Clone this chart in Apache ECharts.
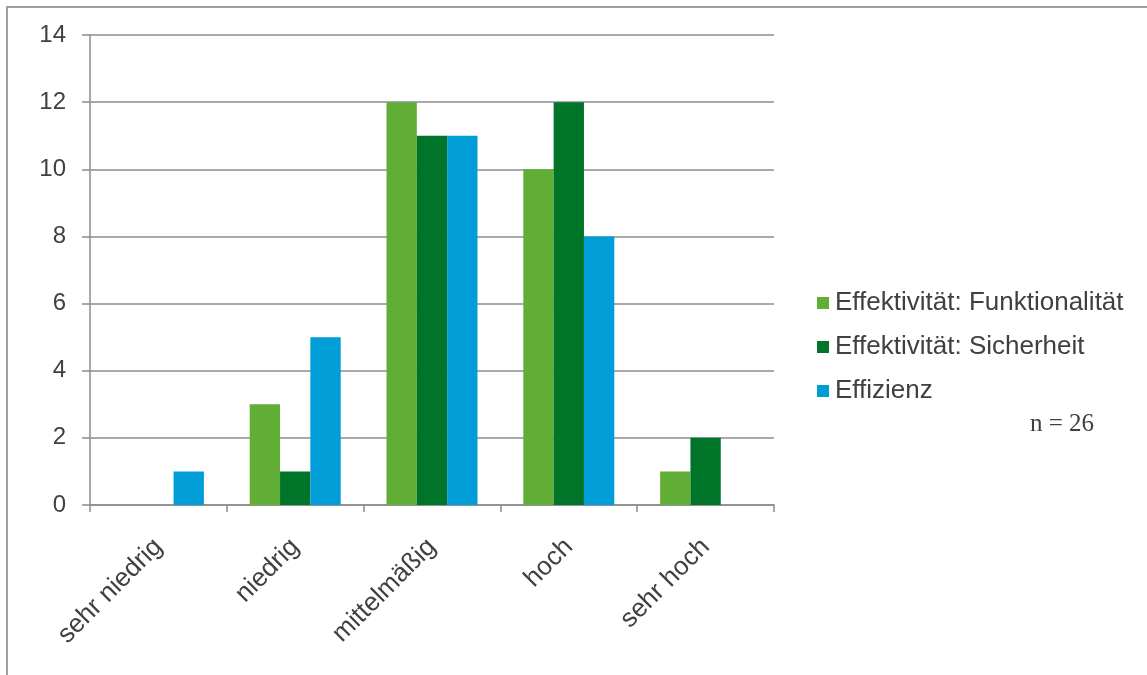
<!DOCTYPE html>
<html><head><meta charset="utf-8">
<script src="https://cdn.jsdelivr.net/npm/echarts@6/dist/echarts.min.js"></script>
<style>html,body{margin:0;padding:0;background:#fff}#c{width:1147px;height:675px}</style>
</head><body><div id="c"></div>
<script>
var categories = ['sehr niedrig', 'niedrig', 'mittelmäßig', 'hoch', 'sehr hoch'];
var seriesNames = ['Effektivität: Funktionalität', 'Effektivität: Sicherheit', 'Effizienz'];
var funktionalitaet = [0, 3, 12, 10, 1];
var sicherheit = [0, 1, 11, 12, 2];
var effizienz = [1, 5, 11, 8, 0];
var colors = ['#61ae36', '#00752a', '#009dd6'];
var yTicks = [0, 2, 4, 6, 8, 10, 12, 14];
var note = 'n = 26';

var chart = echarts.init(document.getElementById('c'), null, {renderer: 'canvas'});
var dataSets = [funktionalitaet, sicherheit, effizienz];
var font = '"Liberation Sans", Arial, sans-serif';
chart.setOption({
  animation: false,
  color: colors,
  grid: {left: 90, right: 373, top: 35, bottom: 170, containLabel: false},
  graphic: [
    {type: 'rect', shape: {x: 7, y: 7, width: 2000, height: 2000}, style: {fill: 'none', stroke: '#a0a0a0', lineWidth: 2}, silent: true},
    {type: 'text', left: 1030, top: 412, style: {text: note, font: '25px "Liberation Serif", "Times New Roman", serif', fill: '#404040'}}
  ],
  legend: {
    orient: 'vertical', left: 812, top: 285,
    itemWidth: 12, itemHeight: 12, itemGap: 18, icon: 'rect',
    textStyle: {fontFamily: font, fontSize: 26, color: '#404040', padding: [0, 0, 0, 1]},
    data: seriesNames
  },
  xAxis: {
    type: 'category', data: categories, boundaryGap: true,
    axisLine: {lineStyle: {color: '#8c8c8c', width: 1.5}},
    axisTick: {show: true, length: 7, alignWithLabel: false, lineStyle: {color: '#8c8c8c', width: 1.5}},
    axisLabel: {rotate: 45, margin: 38, interval: 0, fontFamily: font, fontSize: 26, color: '#404040'}
  },
  yAxis: {
    type: 'value', min: 0, max: 14, interval: 2,
    axisLine: {show: true, lineStyle: {color: '#8c8c8c', width: 1.5}},
    axisTick: {show: true, length: 8, lineStyle: {color: '#8c8c8c', width: 1.5}},
    splitLine: {lineStyle: {color: '#8c8c8c', width: 1.5}},
    axisLabel: {margin: 24, fontFamily: font, fontSize: 24, color: '#404040',
      formatter: function (v) { return yTicks.indexOf(v) >= 0 ? String(v) : ''; }}
  },
  series: seriesNames.map(function (n, i) {
    return {
      name: n, type: 'bar', data: dataSets[i],
      barGap: '0%', barCategoryGap: '33.5%',
      itemStyle: {color: colors[i]}
    };
  })
});
</script></body></html>
